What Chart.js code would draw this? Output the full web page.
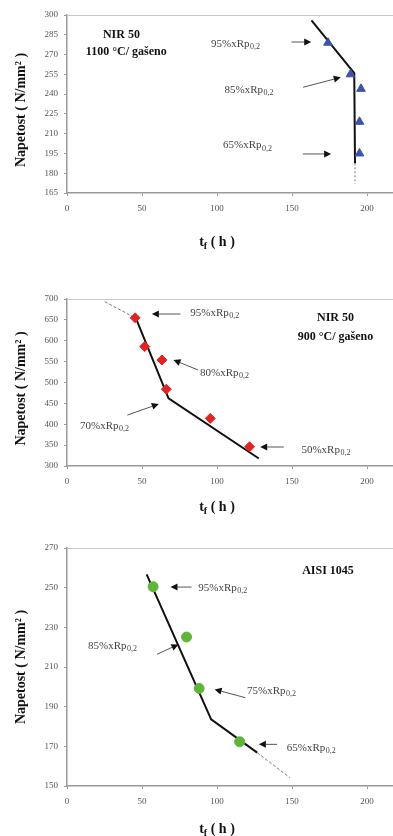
<!DOCTYPE html>
<html><head><meta charset="utf-8">
<script src="https://cdn.jsdelivr.net/npm/chart.js@4/dist/chart.umd.min.js"></script>
<style>
html,body{margin:0;padding:0;background:#fff;overflow:hidden;width:393px;height:836px;position:relative;}
.c{position:absolute;left:0;width:448px;}
</style></head><body>
<div class="c" style="top:0;height:270px"><canvas id="c1"></canvas></div>
<div class="c" style="top:280px;height:270px"><canvas id="c2"></canvas></div>
<div class="c" style="top:530px;height:306px"><canvas id="c3"></canvas></div>
<script>
// ---------- data ----------
const xTicks = [0, 50, 100, 150, 200];

// NIR 50, 1100 °C
const nir1100YTicks = [165, 180, 195, 210, 225, 240, 255, 270, 285, 300];
const nir1100Time   = [174, 189, 196, 195, 195];
const nir1100Stress = [279, 255, 244, 219, 195];
const nir1100FitTime   = [163, 191.5, 192];
const nir1100FitStress = [296, 256, 187.5];
const nir1100ExtTime   = [192, 192];
const nir1100ExtStress = [187.5, 172];
const nir1100Labels = ['95%xRp', '85%xRp', '65%xRp'];

// NIR 50, 900 °C
const nir900YTicks = [300, 350, 400, 450, 500, 550, 600, 650, 700];
const nir900Time   = [45.4, 51.8, 63.3, 66.2, 95.5, 121.7];
const nir900Stress = [655, 586, 554, 484, 414, 346];
const nir900FitTime   = [45.9, 67.7, 127.9];
const nir900FitStress = [654, 462, 318];
const nir900ExtTime   = [25.2, 45.9];
const nir900ExtStress = [693.5, 654];
const nir900Labels = ['95%xRp', '80%xRp', '70%xRp', '50%xRp'];

// AISI 1045
const aisiYTicks = [150, 170, 190, 210, 230, 250, 270];
const aisiTime   = [57.4, 79.7, 88.1, 115.1];
const aisiStress = [250.5, 225.1, 199.2, 172.3];
const aisiFitTime   = [53.1, 96.1, 126.8];
const aisiFitStress = [256.7, 183.6, 166.8];
const aisiExtTime   = [126.8, 148.6];
const aisiExtStress = [166.8, 154.2];
const aisiLabels = ['95%xRp', '85%xRp', '75%xRp', '65%xRp'];

const pts = (xs, ys) => xs.map((v, i) => ({x: v, y: ys[i]}));

// ---------- drawing helpers ----------
const SERIF = '"Liberation Serif", "DejaVu Serif", serif';
const overlay = {
  id: 'overlay',
  afterDraw(chart, args, o) {
    const {ctx, chartArea: a, scales: {x, y}} = chart;
    const px = v => x.getPixelForValue(v), py = v => y.getPixelForValue(v);
    ctx.save();
    // top frame line
    ctx.strokeStyle = '#c8c8c8'; ctx.lineWidth = 1;
    ctx.beginPath(); ctx.moveTo(a.left, Math.round(a.top) + 0.5); ctx.lineTo(a.right, Math.round(a.top) + 0.5); ctx.stroke();
    // arrows
    (o.arrows || []).forEach(ar => {
      const x1 = px(ar[0]), y1 = py(ar[1]), x2 = px(ar[2]), y2 = py(ar[3]);
      const ang = Math.atan2(y2 - y1, x2 - x1), L = 7, W = 3.5;
      const bx = x2 - L * Math.cos(ang), by = y2 - L * Math.sin(ang);
      ctx.strokeStyle = '#555'; ctx.lineWidth = 1;
      ctx.beginPath(); ctx.moveTo(x1, y1); ctx.lineTo(bx, by); ctx.stroke();
      ctx.fillStyle = '#111';
      ctx.beginPath(); ctx.moveTo(x2, y2);
      ctx.lineTo(bx - W * Math.sin(ang), by + W * Math.cos(ang));
      ctx.lineTo(bx + W * Math.sin(ang), by - W * Math.cos(ang));
      ctx.closePath(); ctx.fill();
    });
    // Rp labels
    ctx.fillStyle = '#444'; ctx.textBaseline = 'middle'; ctx.textAlign = 'left';
    (o.labels || []).forEach(l => {
      const lx = px(l.x), ly = py(l.y);
      ctx.font = '11px ' + SERIF;
      ctx.fillText(l.t, lx, ly);
      const w = ctx.measureText(l.t).width;
      ctx.font = '8px ' + SERIF;
      ctx.fillText('0,2', lx + w + 0.5, ly + 3);
    });
    // chart titles
    ctx.fillStyle = '#111'; ctx.textAlign = 'center';
    ctx.font = 'bold 12px ' + SERIF;
    (o.titles || []).forEach(t => ctx.fillText(t.t, px(t.x), py(t.y)));
    // y-axis title
    ctx.save();
    ctx.translate(21, (a.top + a.bottom) / 2 + (o.yShift || 0));
    ctx.rotate(-Math.PI / 2);
    ctx.font = 'bold 14px ' + SERIF;
    ctx.fillText('Napetost ( N/mm² )', 0, 0);
    ctx.restore();
    // x-axis title  t_f ( h )
    ctx.font = 'bold 14px ' + SERIF;
    const w1 = ctx.measureText('t').width, w3 = ctx.measureText(' ( h )').width;
    ctx.font = 'bold 10px ' + SERIF;
    const w2 = ctx.measureText('f').width;
    const cx = px(100), cy = a.bottom + o.xTitleOffset;
    let sx = cx - (w1 + w2 + w3) / 2;
    ctx.textAlign = 'left';
    ctx.font = 'bold 14px ' + SERIF; ctx.fillText('t', sx, cy);
    ctx.font = 'bold 10px ' + SERIF; ctx.fillText('f', sx + w1, cy + 4);
    ctx.font = 'bold 14px ' + SERIF; ctx.fillText(' ( h )', sx + w1 + w2, cy);
    ctx.restore();
  }
};

function makeChart(id, cfg) {
  const ds = [
    {data: pts(cfg.time, cfg.stress), showLine: false, pointStyle: cfg.marker,
     pointRadius: cfg.radius, backgroundColor: cfg.color, borderColor: cfg.color, borderWidth: 1},
    {data: pts(cfg.fitT, cfg.fitS), showLine: true, borderColor: '#111', borderWidth: 2,
     pointRadius: 0, fill: false},
    {data: pts(cfg.extT, cfg.extS), showLine: true, borderColor: '#777', borderWidth: 1,
     borderDash: cfg.dash, pointRadius: 0, fill: false}
  ];
  return new Chart(document.getElementById(id), {
    type: 'scatter',
    data: {datasets: ds},
    options: {
      responsive: true, maintainAspectRatio: false, animation: false, devicePixelRatio: 1,
      layout: {padding: {top: cfg.padTop, left: 0, right: 0, bottom: 0}},
      plugins: {legend: {display: false}, tooltip: {enabled: false},
        overlay: {arrows: cfg.arrows, labels: cfg.labels, titles: cfg.titles,
                  xTitleOffset: cfg.xTitleOffset, yShift: cfg.yShift}},
      scales: {
        x: {type: 'linear', min: 0, max: 250,
            afterBuildTicks: s => { s.ticks = xTicks.map(v => ({value: v})); },
            afterFit: s => { s.height = cfg.xH; },
            grid: {drawOnChartArea: false, drawTicks: true, tickLength: 3, color: '#999'},
            border: {display: true, color: '#999', width: 1.5},
            ticks: {font: {family: SERIF, size: 9}, color: '#555', padding: 7, maxRotation: 0}},
        y: {type: 'linear', min: cfg.yTicks[0], max: cfg.yTicks[cfg.yTicks.length - 1],
            afterBuildTicks: s => { s.ticks = cfg.yTicks.map(v => ({value: v})); },
            afterFit: s => { s.width = 67; },
            grid: {drawOnChartArea: false, drawTicks: true, tickLength: 3, color: '#999'},
            border: {display: true, color: '#999', width: 1.5},
            ticks: {font: {family: SERIF, size: 9}, color: '#555', padding: 6}}
      }
    },
    plugins: [overlay]
  });
}

makeChart('c1', {
  yTicks: nir1100YTicks, time: nir1100Time, stress: nir1100Stress,
  fitT: nir1100FitTime, fitS: nir1100FitStress, extT: nir1100ExtTime, extS: nir1100ExtStress,
  marker: 'triangle', radius: 5, color: '#3f51a8', dash: [2, 2],
  padTop: 15, xH: 77, xTitleOffset: 49, yShift: 6,
  arrows: [[149.7, 279.5, 162.8, 279.5], [157.4, 245.2, 182.5, 252.7], [157.2, 194.6, 176.1, 194.6]],
  labels: [{t: nir1100Labels[0], x: 96, y: 278}, {t: nir1100Labels[1], x: 105, y: 243}, {t: nir1100Labels[2], x: 104, y: 201}],
  titles: [{t: 'NIR 50', x: 36.3, y: 284.8}, {t: '1100 °C/ gašeno', x: 39.5, y: 272}]
});

makeChart('c2', {
  yTicks: nir900YTicks, time: nir900Time, stress: nir900Stress,
  fitT: nir900FitTime, fitS: nir900FitStress, extT: nir900ExtTime, extS: nir900ExtStress,
  marker: 'rectRot', radius: 5, color: '#e02424', dash: [3, 2],
  padTop: 19, xH: 84, xTitleOffset: 41, yShift: 6,
  arrows: [[75.6, 664, 56.6, 664], [87.4, 530, 71, 554], [40.2, 422, 61.2, 448.5], [144.5, 345.5, 128.8, 345.5]],
  labels: [{t: nir900Labels[0], x: 82.2, y: 666.5}, {t: nir900Labels[1], x: 88.7, y: 522.8},
           {t: nir900Labels[2], x: 8.7, y: 396}, {t: nir900Labels[3], x: 156.3, y: 338}],
  titles: [{t: 'NIR 50', x: 179, y: 654.5}, {t: '900 °C/ gašeno', x: 179, y: 609}]
});

makeChart('c3', {
  yTicks: aisiYTicks, time: aisiTime, stress: aisiStress,
  fitT: aisiFitTime, fitS: aisiFitStress, extT: aisiExtTime, extS: aisiExtStress,
  marker: 'circle', radius: 5, color: '#5fb53a', dash: [3, 2],
  padTop: 18, xH: 50, xTitleOffset: 43, yShift: 0,
  arrows: [[83, 250.3, 69, 250.3], [60, 216.4, 74.3, 221.4], [119, 194.5, 98.4, 198.7], [140, 171, 127.9, 171]],
  labels: [{t: aisiLabels[0], x: 87.5, y: 250}, {t: aisiLabels[1], x: 14, y: 220.6},
           {t: aisiLabels[2], x: 120, y: 197.9}, {t: aisiLabels[3], x: 146.5, y: 169.3}],
  titles: [{t: 'AISI 1045', x: 174, y: 258.4}]
});
</script>
</body></html>
